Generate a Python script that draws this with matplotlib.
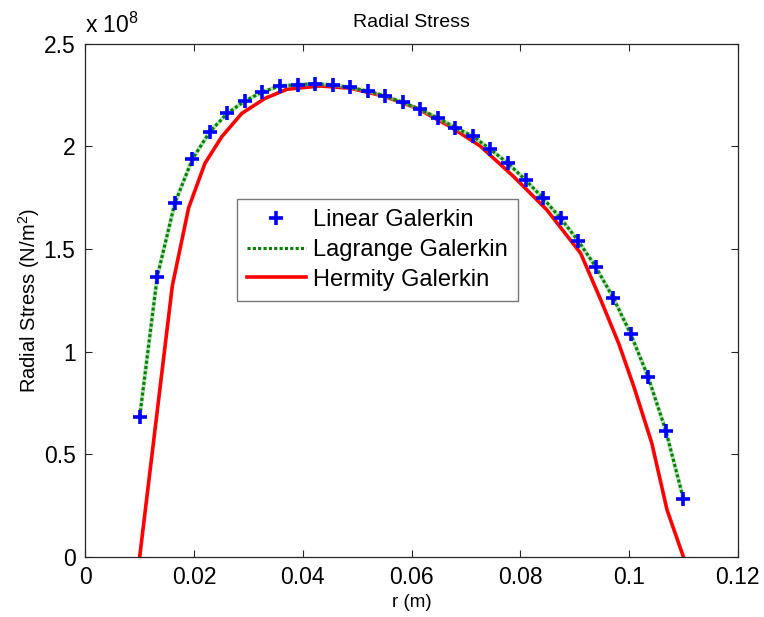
import numpy as np
import matplotlib
matplotlib.use("Agg")
import matplotlib.pyplot as plt
from matplotlib.ticker import FuncFormatter

plt.rcParams['font.family'] = ['Liberation Sans', 'DejaVu Sans']
plt.rcParams['mathtext.fontset'] = 'custom'
plt.rcParams['mathtext.rm'] = 'Liberation Sans'
plt.rcParams['mathtext.it'] = 'Liberation Sans'

# ---- data (stress in units of 1e8 N/m^2) ----
r_linear = np.linspace(0.01, 0.11, 32)
linear_stress = [0.682, 1.365, 1.722, 1.937, 2.071, 2.161, 2.221, 2.265, 2.294, 2.300,
                 2.305, 2.299, 2.287, 2.269, 2.245, 2.214, 2.180, 2.138, 2.091, 2.049,
                 1.985, 1.917, 1.836, 1.747, 1.649, 1.540, 1.413, 1.262, 1.085, 0.874,
                 0.614, 0.283]

r_lagrange = r_linear
lagrange_stress = linear_stress

r_hermity = [0.01, 0.013, 0.016, 0.019, 0.022, 0.0251, 0.0288, 0.0331, 0.0371, 0.0432,
             0.0487, 0.0548, 0.061, 0.0671, 0.0726, 0.0788, 0.0849, 0.0911, 0.0948,
             0.0981, 0.1009, 0.1042, 0.107, 0.11]
hermity_stress = [0.0, 0.66, 1.32, 1.70, 1.917, 2.047, 2.161, 2.234, 2.278, 2.294,
                  2.283, 2.245, 2.185, 2.096, 2.002, 1.852, 1.690, 1.479, 1.252,
                  1.040, 0.828, 0.553, 0.228, 0.0]

labels = ["Linear Galerkin", "Lagrange Galerkin", "Hermity Galerkin"]
x_ticks = [0, 0.02, 0.04, 0.06, 0.08, 0.10, 0.12]
y_ticks = [0, 0.5, 1, 1.5, 2, 2.5]

fig = plt.figure(figsize=(7.64, 6.17), dpi=100)
ax = fig.add_axes([0.1117, 0.0977, 0.8539, 0.8315])

h3, = ax.plot(r_hermity, hermity_stress, color=(1, 0, 0), lw=2.6, label=labels[2], zorder=2)
ax.plot(r_lagrange, lagrange_stress, color=(0.55, 0.8, 0.55), lw=3.0, alpha=0.6, zorder=3)
h2, = ax.plot(r_lagrange, lagrange_stress, color=(0, 0.5, 0), lw=2.2, ls=(0, (1.0, 0.75)),
              label=labels[1], zorder=4)
h1, = ax.plot(r_linear, linear_stress, ls='none', marker='+', color=(0, 0, 1),
              markersize=10, mew=2.6, label=labels[0], zorder=5)

ax.set_xlim(0, 0.12)
ax.set_ylim(0, 2.5)
ax.set_xticks(x_ticks)
ax.set_yticks(y_ticks)
fmt = FuncFormatter(lambda v, p: ('%g' % round(v, 6)))
ax.xaxis.set_major_formatter(fmt)
ax.yaxis.set_major_formatter(fmt)
ax.tick_params(direction='in', length=5, width=0.8, top=True, right=True,
               labelsize=16.5, pad=7, colors='#262626', labelcolor='black')
for s in ax.spines.values():
    s.set_color('#262626')
    s.set_linewidth(0.9)

ax.set_title("Radial Stress", fontsize=14, pad=12)
ax.set_xlabel("r (m)", fontsize=13.5, labelpad=3)
ax.set_ylabel("Radial Stress (N/m$^2$)", fontsize=14.5, labelpad=1)
ax.text(0, 1.012, r"x 10$^{8}$", transform=ax.transAxes, ha='left', va='bottom', fontsize=16.5)

leg = ax.legend(handles=[h1, h2, h3], loc='upper left', bbox_to_anchor=(0.232, 0.697),
                borderaxespad=0, fontsize=17, frameon=True, fancybox=False,
                handlelength=2.5, handletextpad=0.33, borderpad=0.42, labelspacing=0.33,
                edgecolor='#555555')
leg.get_frame().set_linewidth(1.0)

fig.savefig("out.png", dpi=100)
